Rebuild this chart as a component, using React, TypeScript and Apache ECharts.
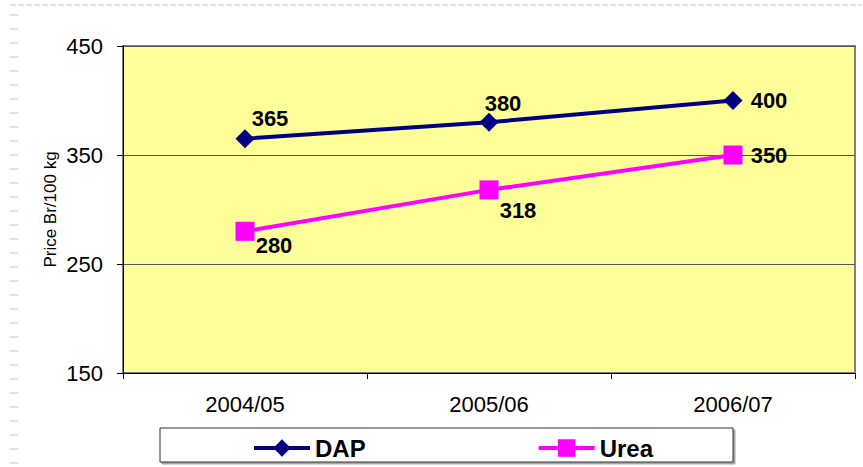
import React, { useEffect, useRef } from "react";
import * as echarts from "echarts";

const categories = ["2004/05", "2005/06", "2006/07"];
const dapValues = [365, 380, 400];
const ureaValues = [280, 318, 350];
const yTicks = { min: 150, max: 450, interval: 100 };
const dapOffsets: [number, number][] = [[25, -20], [14, -19], [36, 0]];
const ureaOffsets: [number, number][] = [[29, 14], [29, 21], [36, 0]];

export default function App() {
  const ref = useRef<HTMLDivElement>(null);
  useEffect(() => {
    if (!ref.current) return;
    const chart = echarts.init(ref.current, null, { renderer: "svg" });
    const font = "Arial, 'Liberation Sans'";
    const labelStyle = { fontFamily: font, fontWeight: "bold" as const, fontSize: 22, color: "#000" };
    chart.setOption({
      animation: false,
      backgroundColor: "#fff",
      grid: {
        left: 123, right: 8, top: 46, bottom: 94, show: true,
        backgroundColor: "#FFFF99", borderColor: "#808080", borderWidth: 2,
      },
      xAxis: {
        type: "category",
        data: categories,
        boundaryGap: true,
        axisLine: { lineStyle: { color: "#000", width: 1 } },
        axisTick: { show: true, length: 6, lineStyle: { color: "#000" } },
        axisLabel: { fontFamily: font, fontSize: 22, color: "#000", margin: 20 },
      },
      yAxis: {
        type: "value",
        min: yTicks.min, max: yTicks.max, interval: yTicks.interval,
        name: "Price Br/100 kg",
        nameLocation: "middle",
        nameGap: 64,
        nameMoveOverlap: false,
        nameTextStyle: { fontFamily: font, fontSize: 17, color: "#000" },
        axisLine: { show: true, lineStyle: { color: "#000", width: 1 } },
        axisTick: { show: true, length: 6, lineStyle: { color: "#000" } },
        axisLabel: { fontFamily: font, fontSize: 22, color: "#000", margin: 20 },
        splitLine: { show: true, lineStyle: { color: "#555", width: 1 } },
      },
      legend: {
        left: 247, top: 431,
        itemWidth: 56, itemHeight: 22, itemGap: 171,
        lineStyle: { width: 4 },
        textStyle: { fontFamily: font, fontWeight: "bold", fontSize: 24, color: "#000" },
        data: ["DAP", "Urea"],
      },
      graphic: [
        {
          type: "rect", z: -1, silent: true,
          shape: { x: 160, y: 428, width: 573, height: 34 },
          style: { fill: "#fff", stroke: "#333", lineWidth: 1, shadowColor: "rgba(0,0,0,0.35)", shadowOffsetX: 2, shadowOffsetY: 2, shadowBlur: 1 },
        },
        {
          type: "line", silent: true,
          shape: { x1: 10, y1: 5, x2: 862, y2: 5 },
          style: { stroke: "#e2e2e2", lineWidth: 2, lineDash: [6, 2] },
        },
        {
          type: "line", silent: true,
          shape: { x1: 14, y1: 14, x2: 14, y2: 467 },
          style: { stroke: "#e2e2e2", lineWidth: 9, lineDash: [2, 12] },
        },
      ],
      series: [
        {
          name: "DAP", type: "line",
          data: dapValues.map((v, i) => ({ value: v, label: { offset: dapOffsets[i] } })),
          symbol: "diamond", symbolSize: 19,
          lineStyle: { color: "#000080", width: 4 },
          itemStyle: { color: "#000080" },
          label: { show: true, position: "inside", ...labelStyle },
          z: 3,
        },
        {
          name: "Urea", type: "line",
          data: ureaValues.map((v, i) => ({ value: v, label: { offset: ureaOffsets[i] } })),
          symbol: "rect", symbolSize: 19,
          lineStyle: { color: "#FF00FF", width: 4 },
          itemStyle: { color: "#FF00FF" },
          label: { show: true, position: "inside", ...labelStyle },
          z: 3,
        },
      ],
    });
    return () => chart.dispose();
  }, []);
  return <div ref={ref} style={{ position: "fixed", left: 0, top: 0, width: 863, height: 467 }} />;
}
